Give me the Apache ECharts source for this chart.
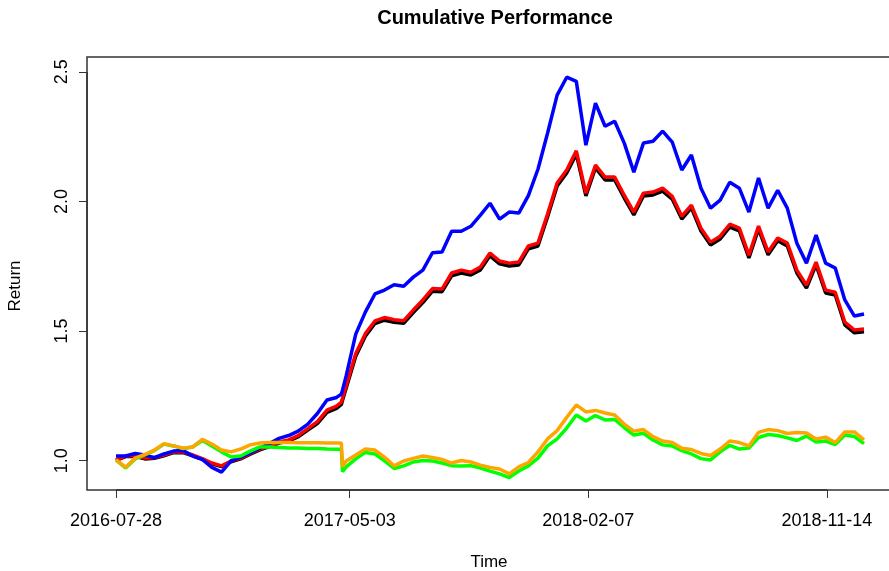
<!DOCTYPE html>
<html>
<head>
<meta charset="utf-8">
<script src="https://cdn.jsdelivr.net/npm/echarts@6/dist/echarts.min.js"></script>
<style>
html,body{margin:0;padding:0;background:#fff;}
#chart{width:889px;height:571px;}
</style>
</head>
<body>
<div id="chart"></div>
<script>
// x positions are trading-day indices (samples roughly every 8 trading days)
const sampleDays = [0,8,16,24,32,40,48,56,64,72,80,88,96,104,112,120,128,136,144,152,160,168,176,184,188,189,192,200,208,216,224,232,240,248,256,264,272,280,288,296,304,312,320,328,336,344,352,360,368,376,384,392,400,408,416,424,432,440,448,456,464,472,480,488,496,504,512,520,528,536,544,552,560,568,576,584,592,600,608,616,624];
const tickDays = [0,195,394,593];
const tickLabels = ['2016-07-28','2017-05-03','2018-02-07','2018-11-14'];

const blackSeries = [1.001,1.016,1.017,1.007,1.009,1.019,1.031,1.031,1.019,1.005,0.988,0.977,0.996,1.007,1.025,1.042,1.054,1.068,1.076,1.092,1.118,1.143,1.186,1.202,1.217,1.233,1.279,1.403,1.480,1.529,1.542,1.534,1.530,1.571,1.610,1.654,1.652,1.713,1.724,1.716,1.736,1.790,1.759,1.751,1.755,1.817,1.828,1.940,2.060,2.110,2.182,2.021,2.129,2.083,2.083,2.013,1.948,2.021,2.025,2.040,2.009,1.932,1.975,1.886,1.832,1.855,1.901,1.886,1.782,1.894,1.794,1.848,1.828,1.724,1.666,1.755,1.647,1.639,1.524,1.493,1.497];
const redSeries = [1.003,1.018,1.020,1.010,1.012,1.022,1.034,1.034,1.022,1.008,0.991,0.980,0.999,1.010,1.028,1.045,1.057,1.072,1.080,1.097,1.124,1.151,1.195,1.211,1.226,1.242,1.288,1.413,1.490,1.539,1.552,1.544,1.540,1.581,1.620,1.664,1.662,1.724,1.735,1.727,1.747,1.801,1.770,1.762,1.766,1.828,1.839,1.951,2.071,2.121,2.195,2.032,2.140,2.094,2.094,2.024,1.959,2.032,2.036,2.051,2.020,1.943,1.986,1.897,1.843,1.866,1.912,1.897,1.793,1.905,1.805,1.859,1.839,1.735,1.677,1.766,1.658,1.650,1.535,1.504,1.508];
const blueSeries = [1.018,1.018,1.028,1.022,1.012,1.026,1.037,1.039,1.018,1.005,0.974,0.956,0.999,1.014,1.030,1.049,1.066,1.086,1.097,1.114,1.141,1.182,1.234,1.244,1.257,1.273,1.327,1.488,1.573,1.643,1.658,1.679,1.673,1.708,1.735,1.802,1.805,1.885,1.885,1.904,1.947,1.993,1.932,1.959,1.955,2.022,2.124,2.263,2.410,2.479,2.463,2.217,2.379,2.290,2.309,2.225,2.113,2.225,2.232,2.271,2.229,2.121,2.179,2.051,1.974,2.005,2.074,2.051,1.959,2.090,1.974,2.043,1.974,1.839,1.762,1.870,1.762,1.743,1.620,1.558,1.566];
const greenSeries = [1.003,0.972,1.007,1.022,1.039,1.064,1.057,1.047,1.053,1.078,1.057,1.034,1.014,1.018,1.037,1.053,1.053,1.051,1.049,1.049,1.047,1.047,1.045,1.044,1.044,0.958,0.976,1.007,1.032,1.026,0.999,0.970,0.980,0.995,1.001,0.999,0.991,0.981,0.980,0.981,0.972,0.960,0.949,0.935,0.960,0.980,1.010,1.057,1.084,1.126,1.176,1.153,1.174,1.157,1.159,1.128,1.099,1.106,1.080,1.061,1.057,1.039,1.026,1.008,1.003,1.034,1.059,1.045,1.049,1.089,1.101,1.097,1.088,1.078,1.095,1.072,1.076,1.062,1.099,1.093,1.066];
const orangeSeries = [1.003,0.975,1.010,1.024,1.041,1.066,1.057,1.048,1.053,1.082,1.064,1.041,1.034,1.045,1.061,1.068,1.070,1.070,1.070,1.069,1.069,1.069,1.068,1.068,1.068,0.977,0.999,1.022,1.045,1.041,1.014,0.980,0.999,1.009,1.018,1.012,1.005,0.991,1.001,0.995,0.983,0.974,0.968,0.949,0.976,0.993,1.034,1.084,1.116,1.167,1.215,1.188,1.194,1.184,1.176,1.141,1.114,1.120,1.093,1.076,1.070,1.048,1.043,1.028,1.020,1.045,1.076,1.070,1.057,1.109,1.120,1.116,1.105,1.109,1.107,1.084,1.091,1.070,1.111,1.111,1.080];

const yTicks = [1.0,1.5,2.0,2.5];

function pairs(vals){ return sampleDays.map((d,i)=>[d, vals[i]]); }

const FONT = '"Liberation Sans", Arial, Helvetica, sans-serif';

const chart = echarts.init(document.getElementById('chart'), null, {renderer:'canvas'});

function lineSeries(name, vals, color){
  return {
    name: name, type:'line', data: pairs(vals), showSymbol:false, symbol:'none',
    lineStyle:{color:color, width:3.5}, itemStyle:{color:color},
    silent:true, animation:false, z:2
  };
}

chart.setOption({
  animation:false,
  backgroundColor:'#ffffff',
  title:{
    text:'Cumulative Performance', left:490, top:3, textAlign:'center',
    textStyle:{fontFamily:FONT, fontWeight:'bold', fontSize:20, color:'#000'}
  },
  grid:{left:87, top:57, width:804, height:433, show:true, borderColor:'#333', borderWidth:1.5,
    backgroundColor:'transparent', containLabel:false, outerBoundsMode:'none'},
  xAxis:{
    type:'value', min:-24.19, max:646.52,
    axisLine:{show:false, onZero:false},
    splitLine:{show:false},
    axisTick:{show:true, customValues:tickDays, length:8, lineStyle:{color:'#333', width:1}},
    axisLabel:{customValues:tickDays, margin:22, fontFamily:FONT, fontSize:18, color:'#000',
      formatter:function(v){ const i = tickDays.indexOf(v); return i>=0 ? tickLabels[i] : ''; }},
    name:'Time', nameLocation:'middle', nameGap:64,
    nameTextStyle:{fontFamily:FONT, fontSize:17, color:'#000'}
  },
  yAxis:{
    type:'value', min:0.887, max:2.557,
    axisLine:{show:false, onZero:false},
    splitLine:{show:false},
    axisTick:{show:true, customValues:yTicks, length:8, lineStyle:{color:'#333', width:1}},
    axisLabel:{customValues:yTicks, rotate:90, margin:16, fontFamily:FONT, fontSize:18, color:'#000',
      formatter:function(v){ return v.toFixed(1); }}
  },
  graphic:[
    {type:'line', shape:{x1:116, y1:490, x2:827, y2:490}, style:{stroke:'#333', lineWidth:1.5}, silent:true},
    {type:'line', shape:{x1:87, y1:72, x2:87, y2:461}, style:{stroke:'#333', lineWidth:1.5}, silent:true},
    {type:'text', x:15, y:286, rotation:Math.PI/2,
      style:{text:'Return', fill:'#000', font:'17px "Liberation Sans", Arial, sans-serif', textAlign:'center', textVerticalAlign:'middle'}, silent:true}
  ],
  series:[
    lineSeries('black', blackSeries, '#000000'),
    lineSeries('red', redSeries, '#ff0000'),
    lineSeries('blue', blueSeries, '#0000ff'),
    lineSeries('green', greenSeries, '#00ff00'),
    lineSeries('orange', orangeSeries, '#ffa500')
  ]
});
</script>
</body>
</html>
